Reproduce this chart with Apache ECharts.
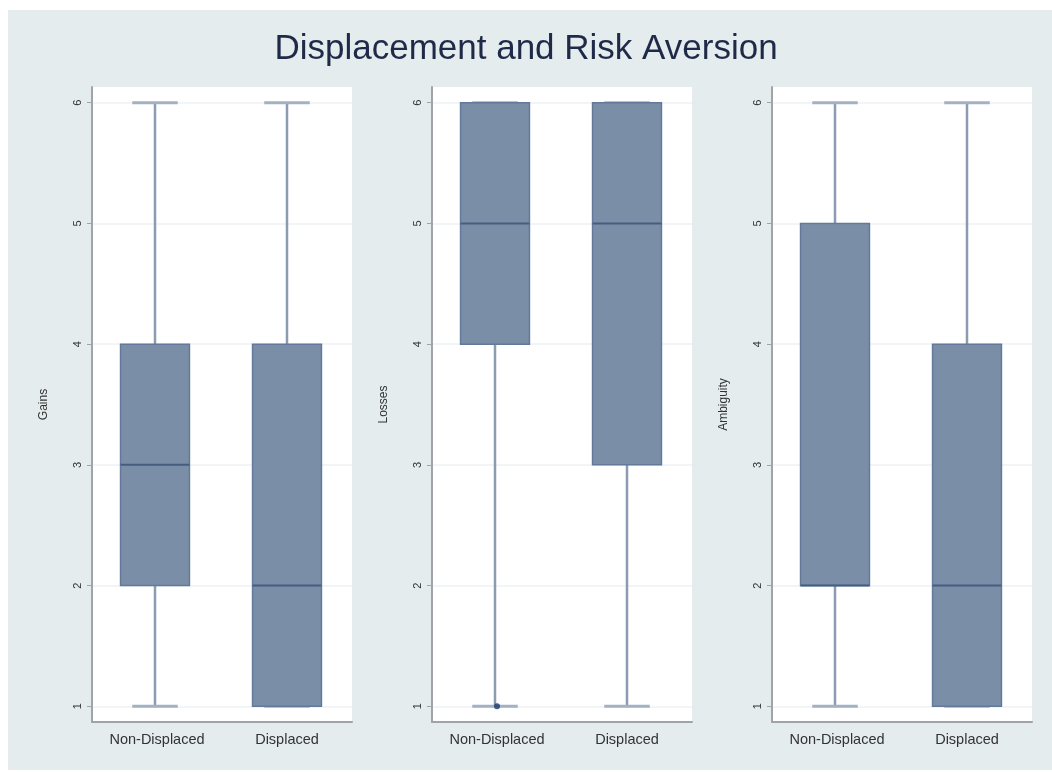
<!DOCTYPE html>
<html>
<head>
<meta charset="utf-8">
<script src="https://cdn.jsdelivr.net/npm/echarts@6/dist/echarts.min.js"></script>
<style>
  html, body { margin: 0; padding: 0; background: #fff; }
  #chart { width: 1052px; height: 772px; }
</style>
</head>
<body>
<div id="chart"></div>
<script>
// groups on the x axis
const groups = ['Non-Displaced', 'Displaced'];
const yTicks = [1, 2, 3, 4, 5, 6];

// [lower whisker, q1, median, q3, upper whisker] per group
const gains = [[1, 2, 3, 4, 6], [1, 1, 2, 4, 6]];
const losses = [[1, 4, 5, 6, 6], [1, 3, 5, 6, 6]];
const ambiguity = [[1, 2, 2, 5, 6], [1, 1, 2, 4, 6]];
// outside points: [group index, value]
const lossesOutliers = [[0, 1]];

const panelNames = ['Gains', 'Losses', 'Ambiguity'];
const panelData = [gains, losses, ambiguity];
const panelOutliers = [[], lossesOutliers, []];

const chart = echarts.init(document.getElementById('chart'));

const gridPos = [
  { left: 92, width: 260 },
  { left: 432, width: 260 },
  { left: 772, width: 260 }
];

const font = 'Liberation Sans, Arial, sans-serif';

const renderBox = (params, api) => {
  const i = api.value(0);
  const lo = api.coord([i, api.value(1)]);
  const q1 = api.coord([i, api.value(2)]);
  const med = api.coord([i, api.value(3)]);
  const q3 = api.coord([i, api.value(4)]);
  const hi = api.coord([i, api.value(5)]);
  const band = api.size([1, 0])[0];
  const bw = band * 0.53;
  const cw = band * 0.35;
  const cx = Math.round(lo[0]) - (i === 0 ? 2 : 0);
  const whisker = { stroke: '#8a9bb2', lineWidth: 2.5 };
  const cap = { stroke: '#a3b1c4', lineWidth: 3 };
  return {
    type: 'group',
    children: [
      { type: 'line', shape: { x1: cx, y1: hi[1], x2: cx, y2: q3[1] }, style: whisker },
      { type: 'line', shape: { x1: cx, y1: q1[1], x2: cx, y2: lo[1] }, style: whisker },
      { type: 'line', shape: { x1: cx - cw / 2, y1: hi[1], x2: cx + cw / 2, y2: hi[1] }, style: cap },
      { type: 'line', shape: { x1: cx - cw / 2, y1: lo[1], x2: cx + cw / 2, y2: lo[1] }, style: cap },
      {
        type: 'rect',
        shape: { x: cx - bw / 2, y: q3[1], width: bw, height: q1[1] - q3[1] },
        style: { fill: '#7a8fa7', stroke: '#62799a', lineWidth: 1.5 }
      },
      { type: 'line', shape: { x1: cx - bw / 2, y1: med[1], x2: cx + bw / 2, y2: med[1] }, style: { stroke: '#445d80', lineWidth: 2 } }
    ]
  };
};

const grids = [], xAxes = [], yAxes = [], series = [];
panelNames.forEach((name, k) => {
  grids.push({
    left: gridPos[k].left, width: gridPos[k].width, top: 87, bottom: 50,
    show: true, backgroundColor: '#ffffff', borderWidth: 0
  });
  xAxes.push({
    type: 'category', gridIndex: k, data: groups, boundaryGap: true,
    axisLine: { show: true, lineStyle: { color: '#a0a4a8', width: 2 } },
    axisTick: { show: false },
    axisLabel: { color: '#333', fontSize: 14.5, margin: 10, fontFamily: font },
    splitLine: { show: false }
  });
  yAxes.push({
    type: 'value', gridIndex: k, min: 0.87, max: 6.13,
    name: name, nameLocation: 'middle', nameGap: 42, nameRotate: 90,
    nameTextStyle: { color: '#333', fontSize: 12, fontFamily: font },
    axisLine: { show: true, onZero: false, lineStyle: { color: '#a0a4a8', width: 2 } },
    axisTick: { show: true, length: 5, customValues: yTicks, lineStyle: { color: '#a0a4a8' } },
    axisLabel: { customValues: yTicks, rotate: 90, color: '#333', fontSize: 11, margin: 9, fontFamily: font },
    splitLine: { show: true, lineStyle: { color: '#edf2f4', width: 1.5 } }
  });
  series.push({
    type: 'custom', xAxisIndex: k, yAxisIndex: k,
    renderItem: renderBox,
    encode: { x: 0, y: [1, 2, 3, 4, 5] },
    data: panelData[k].map((d, i) => [i].concat(d)),
    z: 2
  });
  if (panelOutliers[k].length) {
    series.push({
      type: 'scatter', xAxisIndex: k, yAxisIndex: k,
      data: panelOutliers[k], symbolSize: 6,
      itemStyle: { color: '#1c3866' }, z: 3
    });
  }
});

chart.setOption({
  animation: false,
  backgroundColor: '#ffffff',
  graphic: [{
    type: 'rect', left: 8, top: 10, shape: { width: 1044, height: 760 },
    style: { fill: '#e4ecee' }, z: -10, silent: true
  }],
  title: {
    text: 'Displacement and Risk Aversion', left: 'center', top: 27,
    textStyle: { color: '#1f2a48', fontSize: 35, fontWeight: 'normal', fontFamily: font }
  },
  grid: grids,
  xAxis: xAxes,
  yAxis: yAxes,
  series: series
});
</script>
</body>
</html>
